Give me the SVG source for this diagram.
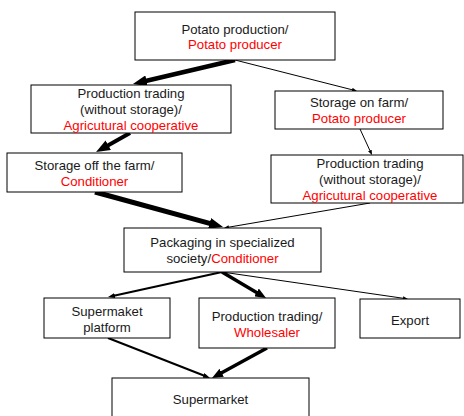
<svg xmlns="http://www.w3.org/2000/svg" width="464" height="416" viewBox="0 0 464 416">
<style>
rect{fill:#fff;stroke:#000;stroke-width:1}
text{font-family:"Liberation Sans",Arial,sans-serif;font-size:13.2px;fill:#1a1a1a;text-anchor:middle}
.r{fill:#ff0000}
line{stroke:#000;fill:none}
</style>
<defs>
<marker id="big" markerUnits="userSpaceOnUse" markerWidth="14" markerHeight="11" viewBox="0 0 14 11" refX="1" refY="5.5" orient="auto"><path d="M0,0 L14,5.5 L0,11 z"/></marker>
<marker id="med" markerUnits="userSpaceOnUse" markerWidth="11" markerHeight="9" viewBox="0 0 11 9" refX="1" refY="4.5" orient="auto"><path d="M0,0 L11,4.5 L0,9 z"/></marker>
<marker id="sm" markerUnits="userSpaceOnUse" markerWidth="7" markerHeight="5" viewBox="0 0 7 5" refX="1" refY="2.5" orient="auto"><path d="M0,0 L7,2.5 L0,5 z"/></marker>
<marker id="th" markerUnits="userSpaceOnUse" markerWidth="5" markerHeight="4" viewBox="0 0 5 4" refX="1" refY="2" orient="auto"><path d="M0,0 L5,2 L0,4 z"/></marker>
</defs>
<g id="connectors">
<line x1="235" y1="60" x2="145.6" y2="81" stroke-width="4.5" marker-end="url(#big)"/>
<line x1="235" y1="60" x2="353.1" y2="90" stroke-width="1" marker-end="url(#th)"/>
<line x1="130" y1="133" x2="107.4" y2="145.7" stroke-width="4" marker-end="url(#big)"/>
<line x1="360" y1="129" x2="370.3" y2="151.4" stroke-width="1" marker-end="url(#th)"/>
<line x1="95" y1="192" x2="210.5" y2="223.6" stroke-width="5" marker-end="url(#big)"/>
<line x1="370" y1="203" x2="227.9" y2="227.3" stroke-width="1" marker-end="url(#th)"/>
<line x1="222" y1="272" x2="113.9" y2="295.7" stroke-width="2" marker-end="url(#sm)"/>
<line x1="222" y1="272" x2="257.4" y2="292.9" stroke-width="3.5" marker-end="url(#med)"/>
<line x1="222" y1="272" x2="404" y2="298.4" stroke-width="1" marker-end="url(#th)"/>
<line x1="108" y1="338" x2="204.4" y2="375.8" stroke-width="2" marker-end="url(#sm)"/>
<line x1="267" y1="348" x2="220.8" y2="373.2" stroke-width="3.5" marker-end="url(#med)"/>
</g>
<g id="n1"><rect x="135" y="12" width="200" height="48"/><text x="235" y="33.5">Potato production/</text><text x="235" y="49" class="r">Potato producer</text></g>
<g id="n2"><rect x="31" y="85" width="200" height="48"/><text x="131" y="98">Production trading</text><text x="131" y="113.5">(without storage)/</text><text x="131" y="129.5" class="r">Agricutural cooperative</text></g>
<g id="n3"><rect x="275" y="91" width="168" height="38"/><text x="359" y="106.5">Storage on farm/</text><text x="359" y="122.5" class="r">Potato producer</text></g>
<g id="n4"><rect x="7" y="153" width="175" height="39"/><text x="94.5" y="169.5">Storage off the farm/</text><text x="94.5" y="185.5" class="r">Conditioner</text></g>
<g id="n5"><rect x="271" y="155" width="192" height="48"/><text x="370" y="167.5">Production trading</text><text x="370" y="183.5">(without storage)/</text><text x="370" y="199.5" class="r">Agricutural cooperative</text></g>
<g id="n6"><rect x="124" y="228" width="197" height="44"/><text x="222.5" y="246.5">Packaging in specialized</text><text x="222.5" y="262.5">society/<tspan class="r">Conditioner</tspan></text></g>
<g id="n7"><rect x="44" y="298" width="126" height="40"/><text x="107" y="315.5">Supermaket</text><text x="107" y="331.5">platform</text></g>
<g id="n8"><rect x="199" y="298" width="136" height="50"/><text x="267" y="320.5">Production trading/</text><text x="267" y="336.5" class="r">Wholesaler</text></g>
<g id="n9"><rect x="360" y="299" width="100" height="39"/><text x="410" y="324.5">Export</text></g>
<g id="n10"><rect x="112" y="378" width="197" height="50"/><text x="210.5" y="403.5">Supermarket</text></g>
</svg>
